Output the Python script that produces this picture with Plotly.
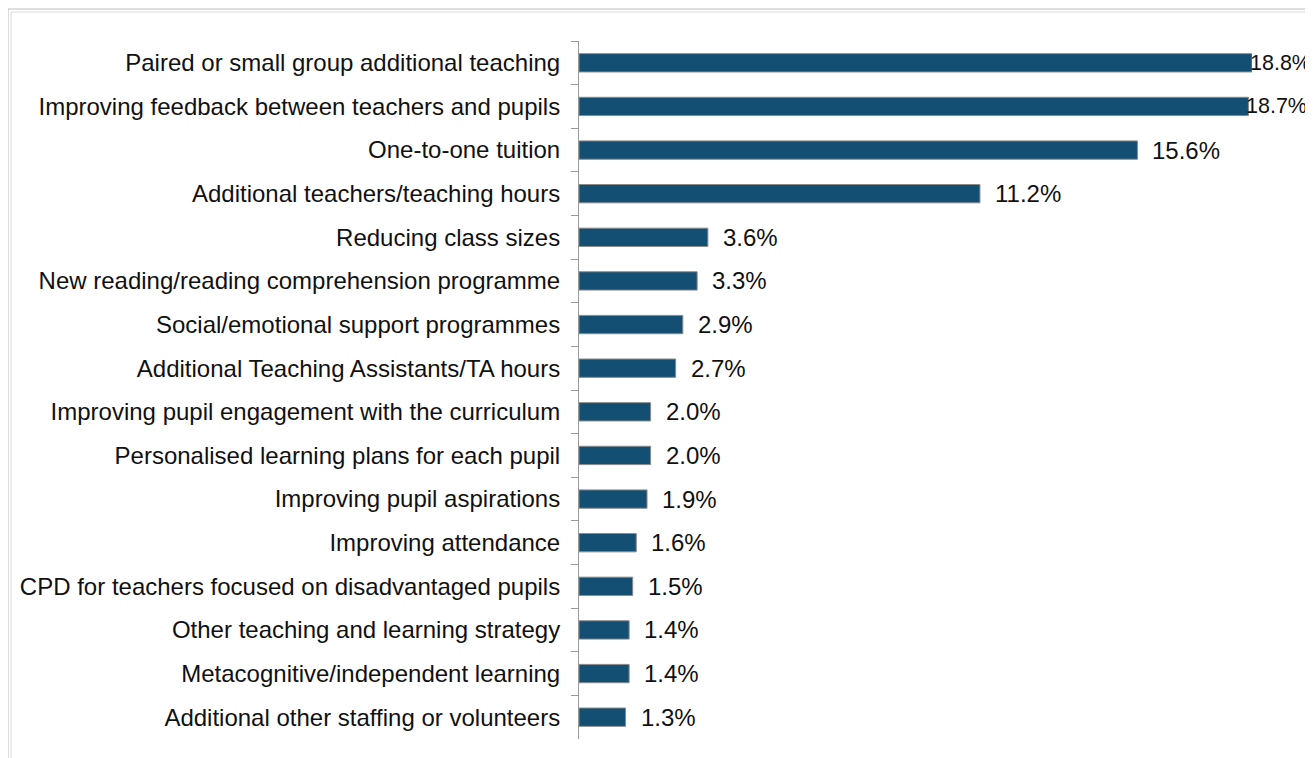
import plotly.graph_objects as go

categories = [
    "Paired or small group additional teaching",
    "Improving feedback between teachers and pupils",
    "One-to-one tuition",
    "Additional teachers/teaching hours",
    "Reducing class sizes",
    "New reading/reading comprehension programme",
    "Social/emotional support programmes",
    "Additional Teaching Assistants/TA hours",
    "Improving pupil engagement with the curriculum",
    "Personalised learning plans for each pupil",
    "Improving pupil aspirations",
    "Improving attendance",
    "CPD for teachers focused on disadvantaged pupils",
    "Other teaching and learning strategy",
    "Metacognitive/independent learning",
    "Additional other staffing or volunteers",
]
values = [18.8, 18.7, 15.6, 11.2, 3.6, 3.3, 2.9, 2.7, 2.0, 2.0, 1.9, 1.6, 1.5, 1.4, 1.4, 1.3]
labels = [f"{v:.1f}%" for v in values]

FONT = "Liberation Sans, Arial, sans-serif"
FS = 24

# page has an 8px body margin; figure sized to the visible area
W, H = 1305, 750
L, T = 571, 33
PW, PH = 673, 698
R, B = W - L - PW, H - T - PH

fig = go.Figure()
fig.add_trace(go.Bar(
    x=values, y=categories, orientation="h",
    marker=dict(color="#134f72", line=dict(color="#8a8a8a", width=1)),
    hoverinfo="skip",
))

xmax = max(values)
for c, v, t in zip(categories, values, labels):
    near_edge = v > 0.95 * xmax
    fig.add_annotation(x=v, y=c, text=t, xanchor="left", showarrow=False,
                       xshift=-3 if near_edge else 14, borderpad=0,
                       font=dict(family=FONT, size=21.5 if near_edge else FS, color="#111111"))

# chart border (double light-gray line)
def px_to_paper_x(px):
    return (px - L) / PW

def px_to_paper_y(py):
    return (T + PH - py) / PH

fig.add_shape(type="rect", xref="paper", yref="paper",
              x0=px_to_paper_x(0), x1=px_to_paper_x(1330),
              y0=px_to_paper_y(780), y1=px_to_paper_y(1),
              line=dict(color="#bcbcbc", width=1), layer="below")
fig.add_shape(type="rect", xref="paper", yref="paper",
              x0=px_to_paper_x(3), x1=px_to_paper_x(1330),
              y0=px_to_paper_y(780), y1=px_to_paper_y(4),
              line=dict(color="#dcdcdc", width=1), layer="below")

fig.update_layout(
    width=W, height=H,
    margin=dict(l=L, r=R, t=T, b=B),
    paper_bgcolor="white", plot_bgcolor="white",
    bargap=0.58, showlegend=False,
    font=dict(family=FONT, size=FS, color="#111111"),
)
fig.update_xaxes(range=[0, xmax], visible=False, showgrid=False, zeroline=False)
fig.update_yaxes(
    autorange="reversed", tickson="boundaries", ticks="outside", ticklen=7,
    tickcolor="#999999", showline=True, linecolor="#999999", linewidth=1,
    ticklabelstandoff=13, showgrid=False,
    tickfont=dict(family=FONT, size=FS, color="#111111"),
)

fig.write_html("out.html")
